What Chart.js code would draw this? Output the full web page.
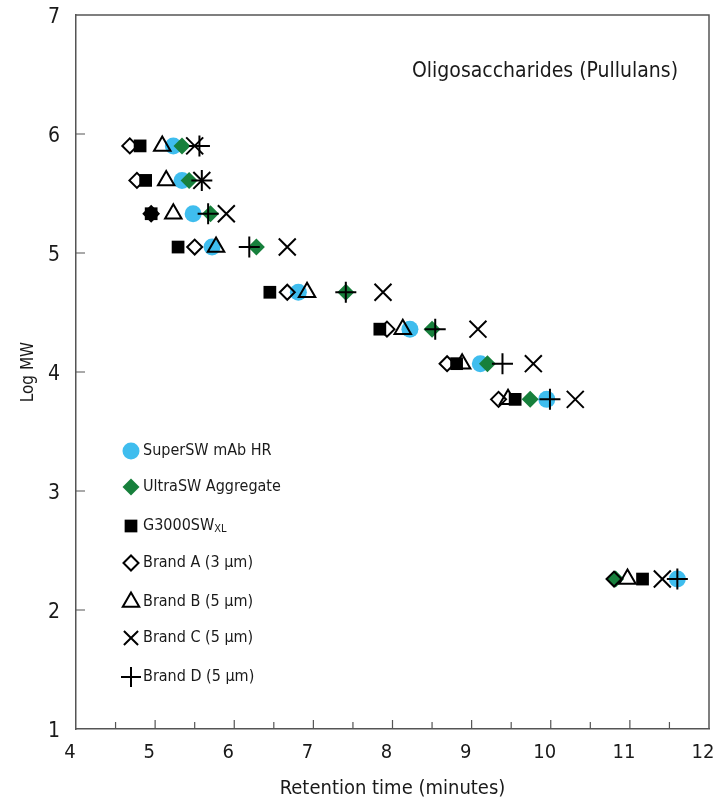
<!DOCTYPE html>
<html>
<head>
<meta charset="utf-8">
<title>Oligosaccharides (Pullulans)</title>
<script src="https://cdn.jsdelivr.net/npm/chart.js@4/dist/chart.umd.min.js"></script>
<style>
    html, body { margin: 0; padding: 0; background: #fff; }
    #wrap { width: 714px; height: 801px; }
</style>
</head>
<body>
<div id="wrap"><canvas id="mw-chart" width="714" height="801"></canvas></div>
<script>
// log MW of the pullulan standards (same for every column)
var logMW = [5.90, 5.61, 5.33, 5.05, 4.67, 4.36, 4.07, 3.77, 2.26];

// retention times (minutes), one list per column
var superSW = [5.23, 5.34, 5.48, 5.72, 6.81, 8.22, 9.11, 9.95, 11.60];
var ultraSW = [5.34, 5.43, 5.70, 6.28, 7.41, 8.50, 9.20, 9.74, 10.82];
var g3000 = [4.81, 4.88, 4.95, 5.29, 6.45, 7.84, 8.81, 9.55, 11.16];
var brandA = [4.68, 4.77, 4.95, 5.50, 6.67, 7.93, 8.69, 9.34, 10.80];
var brandB = [5.09, 5.14, 5.23, 5.77, 6.92, 8.13, 8.88, 9.46, 10.97];
var brandC = [5.50, 5.59, 5.90, 6.67, 7.88, 9.08, 9.78, 10.31, 11.41];
var brandD = [5.56, 5.59, 5.67, 6.19, 7.41, 8.54, 9.39, 9.99, 11.60];

var seriesLabels = ['SuperSW mAb HR', 'UltraSW Aggregate', 'G3000SW', 'Brand A (3 µm)', 'Brand B (5 µm)', 'Brand C (5 µm)', 'Brand D (5 µm)'];

var xTicks = [4, 5, 6, 7, 8, 9, 10, 11, 12];
var yTicks = [1, 2, 3, 4, 5, 6, 7];

var FONT = '"Liberation Sans Narrow", "DejaVu Sans Condensed", "Roboto", sans-serif';
var AXIS = '#555';
var TEXT = '#1a1a1a';

function points(xs) {
    return xs.map(function (x, i) { return {x: x, y: logMW[i]}; });
}

function makeDataset(label, xs, style, order) {
    return {
        label: label,
        data: points(xs),
        order: order,
        pointStyle: style.shape,
        pointRadius: style.radius,
        pointHoverRadius: style.radius,
        pointBackgroundColor: style.fill,
        pointBorderColor: style.stroke,
        pointBorderWidth: style.width,
        showLine: false
    };
}

var cyan = '#3fbdee';
var green = '#17803c';

var datasets = [
    makeDataset(seriesLabels[0], superSW, {shape: 'circle', radius: 8.5, fill: cyan, stroke: cyan, width: 0}, 7),
    makeDataset(seriesLabels[1], ultraSW, {shape: 'rectRot', radius: 8.5, fill: green, stroke: green, width: 0}, 6),
    makeDataset(seriesLabels[2], g3000, {shape: 'rect', radius: 9, fill: '#000', stroke: '#000', width: 0}, 5),
    makeDataset(seriesLabels[3], brandA, {shape: 'rectRot', radius: 7.5, fill: 'rgba(0,0,0,0)', stroke: '#000', width: 2}, 4),
    makeDataset(seriesLabels[4], brandB, {shape: 'triangle', radius: 9.5, fill: 'rgba(0,0,0,0)', stroke: '#000', width: 2}, 3),
    makeDataset(seriesLabels[5], brandC, {shape: 'crossRot', radius: 12, fill: 'rgba(0,0,0,0)', stroke: '#000', width: 2}, 2),
    makeDataset(seriesLabels[6], brandD, {shape: 'cross', radius: 10.5, fill: 'rgba(0,0,0,0)', stroke: '#000', width: 2}, 1)
];

// frame on top/right plus inward tick marks
var framePlugin = {
    id: 'frame',
    afterDatasetsDraw: function (chart) {
        var ctx = chart.ctx;
        var a = chart.chartArea;
        var xs = chart.scales.x;
        var ys = chart.scales.y;
        ctx.save();
        ctx.strokeStyle = AXIS;
        ctx.lineWidth = 1.5;
        ctx.beginPath();
        ctx.moveTo(a.left, a.top);
        ctx.lineTo(a.right, a.top);
        ctx.lineTo(a.right, a.bottom);
        ctx.stroke();

        ctx.lineWidth = 1.2;
        ctx.beginPath();
        for (var v = 4.5; v < 12; v += 0.5) {
            var px = xs.getPixelForValue(v);
            var len = v % 1 === 0 ? 9 : 7;
            ctx.moveTo(px, a.bottom);
            ctx.lineTo(px, a.bottom - len);
        }
        for (var t = 2; t < 7; t++) {
            var py = ys.getPixelForValue(t);
            ctx.moveTo(a.left, py);
            ctx.lineTo(a.left + 9, py);
        }
        ctx.stroke();
        ctx.restore();
    }
};

// legend inside the plot plus the panel caption
var legendPlugin = {
    id: 'innerLegend',
    afterDraw: function (chart) {
        var ctx = chart.ctx;
        var rows = [451, 487, 526, 563, 602, 638, 677];
        ctx.save();
        ctx.textBaseline = 'middle';
        ctx.textAlign = 'left';
        chart.data.datasets.forEach(function (ds, i) {
            var y = rows[i];
            ctx.fillStyle = ds.pointBackgroundColor;
            ctx.strokeStyle = ds.pointBorderColor;
            ctx.lineWidth = ds.pointBorderWidth;
            Chart.helpers.drawPoint(ctx, {
                pointStyle: ds.pointStyle,
                radius: Math.min(ds.pointRadius, 10),
                rotation: 0,
                borderWidth: ds.pointBorderWidth
            }, 131, y);

            ctx.fillStyle = TEXT;
            ctx.font = '16px ' + FONT;
            ctx.fillText(ds.label, 143, y);
            if (i === 2) {
                var w = ctx.measureText(ds.label).width;
                ctx.font = '11px ' + FONT;
                ctx.fillText('XL', 143 + w, y + 3);
            }
        });

        ctx.font = '21px ' + FONT;
        ctx.textAlign = 'center';
        ctx.fillStyle = TEXT;
        ctx.fillText('Oligosaccharides (Pullulans)', 545, 72);
        ctx.restore();
    }
};

var chart = new Chart(document.getElementById('mw-chart'), {
    type: 'scatter',
    data: {datasets: datasets},
    plugins: [framePlugin, legendPlugin],
    options: {
        responsive: false,
        animation: false,
        events: [],
        layout: {autoPadding: false, padding: {top: 15, right: 5, left: 0, bottom: 0}},
        plugins: {
            legend: {display: false},
            tooltip: {enabled: false}
        },
        scales: {
            x: {
                type: 'linear',
                min: 4,
                max: 12,
                afterBuildTicks: function (scale) {
                    scale.ticks = xTicks.map(function (v) { return {value: v}; });
                },
                afterFit: function (scale) {
                    scale.height = 72;
                    scale.paddingLeft = 0;
                    scale.paddingRight = 0;
                },
                grid: {display: true, drawOnChartArea: false, drawTicks: false},
                border: {display: true, color: AXIS, width: 1.5},
                ticks: {
                    padding: 12,
                    labelOffset: -6,
                    color: TEXT,
                    font: {family: FONT, size: 20},
                    maxRotation: 0
                },
                title: {
                    display: true,
                    text: 'Retention time (minutes)',
                    color: TEXT,
                    font: {family: FONT, size: 20},
                    padding: {top: 4, bottom: 0}
                }
            },
            y: {
                type: 'linear',
                min: 1,
                max: 7,
                afterBuildTicks: function (scale) {
                    scale.ticks = yTicks.map(function (v) { return {value: v}; });
                },
                afterFit: function (scale) {
                    scale.width = 76;
                    scale.paddingTop = 0;
                    scale.paddingBottom = 0;
                },
                grid: {display: true, drawOnChartArea: false, drawTicks: false},
                border: {display: true, color: AXIS, width: 1.5},
                ticks: {
                    padding: 16,
                    labelOffset: 3,
                    color: TEXT,
                    font: {family: FONT, size: 21}
                },
                title: {
                    display: true,
                    text: 'Log MW',
                    color: TEXT,
                    font: {family: FONT, size: 17},
                    padding: {top: 18, bottom: 0}
                }
            }
        }
    }
});
</script>
</body>
</html>
